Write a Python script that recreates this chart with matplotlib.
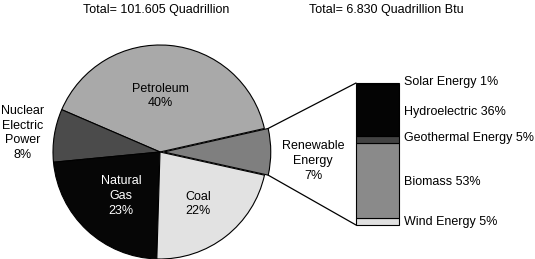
import matplotlib
matplotlib.use("Agg")
import matplotlib.pyplot as plt
import numpy as np
from matplotlib.patches import ConnectionPatch

plt.rcParams['font.family'] = ['Liberation Sans', 'DejaVu Sans']

# main pie (percent of 101.605 quadrillion Btu)
pie_names = ["Renewable\nEnergy", "Petroleum", "Nuclear\nElectric\nPower", "Natural\nGas", "Coal"]
pie_vals = [7, 40, 8, 23, 22]
pie_colors = ["#7f7f7f", "#a9a9a9", "#4b4b4b", "#060606", "#e2e2e2"]

# renewable breakdown, bottom to top
bar_names = ["Wind Energy", "Biomass", "Geothermal Energy", "Hydroelectric", "Solar Energy"]
bar_vals = [5, 53, 5, 36, 1]
bar_colors = ["#e0e0e0", "#8a8a8a", "#434343", "#040404", "#f7f7f7"]

titles = ["Total= 101.605 Quadrillion", "Total= 6.830 Quadrillion Btu"]

W, H = 535, 259
fig = plt.figure(figsize=(W / 100, H / 100), dpi=100)

# pie axes
cx, cy, r = 160, 152, 107
ax_pie = fig.add_axes([(cx - r) / W, (H - cy - r) / H, 2 * r / W, 2 * r / H])
wedges, _ = ax_pie.pie(pie_vals, colors=pie_colors, startangle=-12.5,
                       counterclock=True, explode=[0.035, 0, 0, 0, 0],
                       wedgeprops=dict(edgecolor="black", linewidth=0.8))
ax_pie.set_xlim(-1, 1)
ax_pie.set_ylim(-1, 1)
ax_pie.axis('off')
for w in wedges:
    w.set_clip_on(False)

# stacked bar axes
bx0, bx1, by0, by1 = 356, 399, 83, 225
ax_bar = fig.add_axes([bx0 / W, (H - by1) / H, (bx1 - bx0) / W, (by1 - by0) / H])
bottoms = np.concatenate([[0], np.cumsum(bar_vals)[:-1]])
ax_bar.bar(0.5, bar_vals, width=1, bottom=bottoms, color=bar_colors,
           edgecolor="black", linewidth=0.8, clip_on=False)
ax_bar.set_xlim(0, 1)
ax_bar.set_ylim(0, sum(bar_vals))
ax_bar.axis('off')

# lines from renewable wedge to the bar
ren = wedges[0]
wc = np.array(ren.center)
for th, ybar in [(ren.theta2, sum(bar_vals)), (ren.theta1, 0)]:
    p = wc + ren.r * np.array([np.cos(np.radians(th)), np.sin(np.radians(th))])
    con = ConnectionPatch(xyA=tuple(p), coordsA=ax_pie.transData,
                          xyB=(0, ybar), coordsB=ax_bar.transData,
                          color="black", linewidth=0.9)
    fig.add_artist(con)

# text layer on top, pixel coords from top-left
tx = fig.add_axes([0, 0, 1, 1])
tx.set_xlim(0, W)
tx.set_ylim(H, 0)
tx.axis('off')

fs = 9
tx.text(156, 10, titles[0], ha='center', va='center', fontsize=fs)
tx.text(386, 10, titles[1], ha='center', va='center', fontsize=fs)

label_pos = [(313, 161), (160, 96), (23, 133), (121, 196), (198, 204)]
label_col = ["black", "black", "black", "white", "black"]
for name, v, (x, y), c in zip(pie_names, pie_vals, label_pos, label_col):
    tx.text(x, y, f"{name}\n{v}%", ha='center', va='center', fontsize=fs,
            color=c, linespacing=1.3)

bar_label_y = [222, 182, 138, 112, 82]
for name, v, y in zip(bar_names, bar_vals, bar_label_y):
    tx.text(404, y, f"{name} {v}%", ha='left', va='center', fontsize=fs)

fig.savefig("out.png", dpi=100)
